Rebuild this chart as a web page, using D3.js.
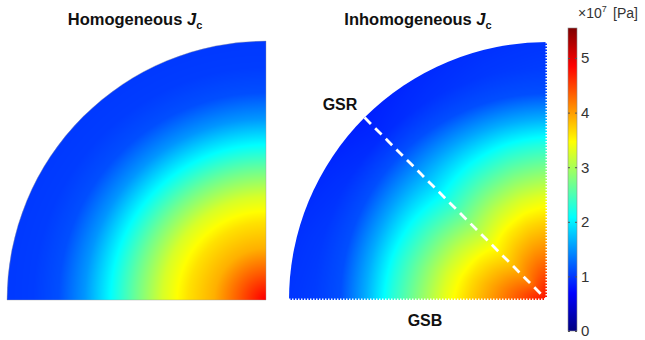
<!DOCTYPE html>
<html>
<head>
<meta charset="utf-8">
<script src="https://cdn.jsdelivr.net/npm/d3@7"></script>
<style>
  html, body { margin: 0; padding: 0; background: #fff; }
  svg { display: block; }
  text { font-family: "Liberation Sans", Arial, sans-serif; }
</style>
</head>
<body>
<svg id="chart" width="645" height="340"></svg>
<script>
// ---------------- DATA ----------------
// Normalised radius (0 = disc centre at the corner, 1 = outer edge)
const radiusGrid = [0, 0.1, 0.2, 0.3, 0.4, 0.5, 0.6, 0.7, 0.8, 0.9, 1.0];
// Stress (x10^7 Pa), homogeneous Jc: purely radial
const stressHomogeneous = [4.9, 4.39, 3.9, 3.63, 3.25, 2.68, 2.08, 1.51, 1.12, 1.02, 1.0];
// Stress (x10^7 Pa), inhomogeneous Jc, along the growth-sector axes (GSB, 0 and 90 deg)
const stressInhomAxis = [4.8, 4.45, 4.08, 3.72, 3.32, 2.8, 2.28, 1.65, 1.12, 1.02, 0.98];
// Stress (x10^7 Pa), inhomogeneous Jc, along the GSR diagonal (45 deg)
const stressInhomDiag = [4.8, 4.17, 3.78, 3.42, 2.94, 2.44, 1.96, 1.54, 1.12, 0.92, 0.86];
// Angular blend between axis profile (0) and diagonal profile (1)
const blendAngle = [0, 15, 30, 45, 60, 75, 90];
const blendWeight = [0, 0.2, 0.55, 1, 0.55, 0.2, 0];
// Colour bar
const colorbarTicks = [0, 1, 2, 3, 4, 5];
const colorbarMax = 5.55;
const jetStops = [0, 0.125, 0.375, 0.625, 0.875, 1];
const jetColors = ["#00007f", "#0000ff", "#00ffff", "#ffff00", "#ff0000", "#7f0000"];
// Titles / labels
const panelTitles = ["Homogeneous ", "Inhomogeneous "];

// ---------------- SCALES ----------------
const jet = d3.scaleLinear().domain(jetStops).range(jetColors).interpolate(d3.interpolateRgb).clamp(true);
const colorScale = v => jet(v / colorbarMax);
const homogScale = d3.scaleLinear().domain(radiusGrid).range(stressHomogeneous).clamp(true);
const axisScale = d3.scaleLinear().domain(radiusGrid).range(stressInhomAxis).clamp(true);
const diagScale = d3.scaleLinear().domain(radiusGrid).range(stressInhomDiag).clamp(true);
const blendScale = d3.scaleLinear().domain(blendAngle).range(blendWeight).clamp(true);

const svg = d3.select("#chart");
const defs = svg.append("defs");

const panels = [
  { cx: 266, cy: 300, R: 259, value: (r, th) => homogScale(r) },
  { cx: 547, cy: 300, R: 258, value: (r, th) => {
      const w = blendScale(th);
      return (1 - w) * axisScale(r) + w * diagScale(r);
    } }
];

function rasterize(p) {
  const R = p.R;
  const canvas = document.createElement("canvas");
  canvas.width = R; canvas.height = R;
  const ctx = canvas.getContext("2d");
  const img = ctx.createImageData(R, R);
  const cache = new Map();
  for (let j = 0; j < R; j++) {
    for (let i = 0; i < R; i++) {
      const dx = R - (i + 0.5);
      const dy = R - (j + 0.5);
      const r = Math.sqrt(dx * dx + dy * dy) / R;
      const th = Math.atan2(dy, dx) * 180 / Math.PI;
      const v = p.value(r, th);
      const key = Math.round(v * 400);
      let c = cache.get(key);
      if (!c) { c = d3.rgb(colorScale(key / 400)); cache.set(key, c); }
      const k = (j * R + i) * 4;
      img.data[k] = c.r; img.data[k + 1] = c.g; img.data[k + 2] = c.b; img.data[k + 3] = 255;
    }
  }
  ctx.putImageData(img, 0, 0);
  return canvas.toDataURL();
}

function quarterPath(cx, cy, R) {
  return `M${cx},${cy} L${cx - R},${cy} A${R},${R} 0 0 1 ${cx},${cy - R} Z`;
}

panels.forEach((p, idx) => {
  const id = "clip" + idx;
  defs.append("clipPath").attr("id", id).append("path").attr("d", quarterPath(p.cx, p.cy, p.R));
  svg.append("image")
    .attr("href", rasterize(p))
    .attr("x", p.cx - p.R).attr("y", p.cy - p.R)
    .attr("width", p.R).attr("height", p.R)
    .attr("preserveAspectRatio", "none")
    .attr("clip-path", `url(#${id})`);
});

// Left panel faint outline
svg.append("path").attr("d", quarterPath(panels[0].cx, panels[0].cy, panels[0].R))
  .attr("fill", "none").attr("stroke", "#9a9a9a").attr("stroke-opacity", 0.5).attr("stroke-width", 0.8);

// Right panel: dotted boundaries (GSB) and dashed diagonal (GSR)
{
  const p = panels[1];
  svg.append("line").attr("x1", p.cx - p.R).attr("y1", p.cy - 0.5).attr("x2", p.cx).attr("y2", p.cy - 0.5)
    .attr("stroke", "#fff").attr("stroke-width", 2).attr("stroke-dasharray", "1.5 1.5");
  svg.append("line").attr("x1", p.cx - 0.5).attr("y1", p.cy - p.R).attr("x2", p.cx - 0.5).attr("y2", p.cy)
    .attr("stroke", "#fff").attr("stroke-width", 2).attr("stroke-dasharray", "1.5 1.5");
  const a = Math.PI / 4;
  svg.append("line")
    .attr("x1", p.cx - p.R * Math.cos(a)).attr("y1", p.cy - p.R * Math.sin(a))
    .attr("x2", p.cx).attr("y2", p.cy)
    .attr("stroke", "#fff").attr("stroke-width", 2.8).attr("stroke-dasharray", "9 6");
}

// Titles
const titleX = [135, 418];
panelTitles.forEach((t, i) => {
  const tx = svg.append("text").attr("x", titleX[i]).attr("y", 25)
    .attr("text-anchor", "middle").attr("font-size", 16.5).attr("font-weight", "bold").attr("fill", "#111");
  tx.append("tspan").text(t);
  tx.append("tspan").attr("font-style", "italic").text("J");
  tx.append("tspan").attr("font-size", 11).attr("dy", 4).text("c");
});

// GSR / GSB labels
svg.append("text").attr("x", 340).attr("y", 110).attr("text-anchor", "middle")
  .attr("font-size", 16).attr("font-weight", "bold").attr("fill", "#111").text("GSR");
svg.append("text").attr("x", 425).attr("y", 326).attr("text-anchor", "middle")
  .attr("font-size", 16).attr("font-weight", "bold").attr("fill", "#111").text("GSB");

// Colour bar
const cbX = 568, cbW = 9;
const yCb = d3.scaleLinear().domain([0, colorbarMax]).range([331, 28]);
const grad = defs.append("linearGradient").attr("id", "cbgrad")
  .attr("x1", 0).attr("y1", 1).attr("x2", 0).attr("y2", 0);
d3.range(0, 1.0001, 0.025).forEach(t => {
  grad.append("stop").attr("offset", t).attr("stop-color", jet(t));
});
svg.append("rect").attr("x", cbX).attr("y", yCb(colorbarMax)).attr("width", cbW)
  .attr("height", yCb(0) - yCb(colorbarMax)).attr("fill", "url(#cbgrad)")
  .attr("stroke", "#8a8a8a").attr("stroke-width", 0.6);

const axLabels = svg.append("g").attr("transform", `translate(${cbX + cbW},0)`)
  .call(d3.axisRight(yCb).tickValues(colorbarTicks).tickSize(0).tickPadding(4).tickFormat(d3.format("d")));
axLabels.select(".domain").remove();
axLabels.selectAll("text").attr("font-size", 15).attr("fill", "#333")
  .attr("font-family", "'Liberation Sans', Arial, sans-serif");

const innerR = svg.append("g").attr("transform", `translate(${cbX + cbW},0)`)
  .call(d3.axisLeft(yCb).tickValues(colorbarTicks).tickSize(2).tickFormat(""));
innerR.select(".domain").remove();
innerR.selectAll("line").attr("stroke", "#555");
const innerL = svg.append("g").attr("transform", `translate(${cbX},0)`)
  .call(d3.axisRight(yCb).tickValues(colorbarTicks).tickSize(2).tickFormat(""));
innerL.select(".domain").remove();
innerL.selectAll("line").attr("stroke", "#555");

// Colour bar unit label
const unit = svg.append("text").attr("x", 578).attr("y", 18).attr("font-size", 14).attr("fill", "#333");
unit.append("tspan").text("×10");
unit.append("tspan").attr("font-size", 9).attr("dy", -6).text("7");
svg.append("text").attr("x", 613).attr("y", 18).attr("font-size", 14).attr("fill", "#333").text("[Pa]");
</script>
</body>
</html>
